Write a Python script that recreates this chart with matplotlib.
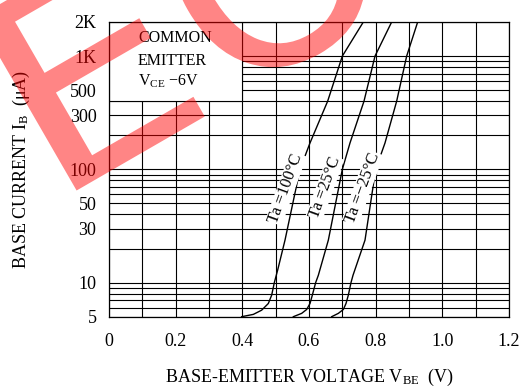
import numpy as np
import matplotlib
matplotlib.use('Agg')
import matplotlib.pyplot as plt
from matplotlib.patches import Rectangle, PathPatch
from matplotlib.textpath import TextPath
from matplotlib.font_manager import FontProperties
from matplotlib.transforms import Affine2D

plt.rcParams.update({
    'font.family': 'Liberation Serif',
    'mathtext.fontset': 'custom',
    'mathtext.rm': 'Liberation Serif',
    'mathtext.it': 'Liberation Serif:italic',
    'font.size': 13,
})

# base current (uA) vs base-emitter voltage (V), one pair per temperature
ib_100 = [5, 5.24, 5.71, 6.54, 7.75, 10, 12.9, 23.7, 100, 171, 400, 1000, 2000]
vbe_100 = [0.398, 0.433, 0.458, 0.478, 0.488, 0.496, 0.506, 0.528, 0.573, 0.603, 0.656, 0.700, 0.763]

ib_25 = [5, 5.35, 5.79, 6.54, 7.75, 10, 11.6, 23.7, 100, 171, 400, 1000, 2000]
vbe_25 = [0.553, 0.578, 0.593, 0.603, 0.610, 0.620, 0.628, 0.658, 0.700, 0.723, 0.765, 0.798, 0.848]

ib_m25 = [5, 5.35, 5.79, 6.54, 7.75, 10, 11.6, 23.7, 100, 171, 400, 1000, 2000]
vbe_m25 = [0.668, 0.688, 0.703, 0.711, 0.718, 0.726, 0.732, 0.768, 0.800, 0.828, 0.863, 0.893, 0.926]

curve_labels = ['Ta =100°C', 'Ta =25°C', 'Ta =\u221225°C']
label_pos = [(0.531, 68), (0.648, 69), (0.761, 69)]

xticks = [0, 0.2, 0.4, 0.6, 0.8, 1.0, 1.2]
xticklabels = ['0', '0.2', '0.4', '0.6', '0.8', '1.0', '1.2']
yticks = [5, 10, 30, 50, 100, 300, 500, 1000, 2000]
yticklabels = ['5', '10', '30', '50', '100', '300', '500', '1K', '2K']
ygrid = [5, 6, 7, 8, 9, 10, 20, 30, 40, 50, 60, 70, 80, 90,
         100, 200, 300, 400, 500, 600, 700, 800, 900, 1000, 2000]

W, H = 526, 392
fig = plt.figure(figsize=(W / 100, H / 100), dpi=100)
ax = fig.add_axes([0.2072, 0.1921, 0.7605, 0.7518])
ax.set_yscale('log')
ax.set_xlim(0, 1.2)
ax.set_ylim(5, 2000)

# grid
for v in np.arange(0, 1.21, 0.1):
    ax.axvline(v, color='black', lw=0.8, zorder=0.5)
for g in ygrid:
    ax.axhline(g, color='black', lw=0.8, zorder=0.5)

# white box for the conditions note
ax.add_patch(Rectangle((0, 400), 0.4, 1600, facecolor='white',
                       edgecolor='black', lw=0.8, zorder=1))
ax.text(0.0725, 0.946, 'COMMON', transform=ax.transAxes, fontsize=11.5,
        va='center', ha='left', zorder=3)
ax.text(0.0725, 0.868, 'EMITTER', transform=ax.transAxes, fontsize=11.5,
        va='center', ha='left', zorder=3)
ax.text(0.0725, 0.800, r'V$_{\mathregular{CE}}$ $-$6V', transform=ax.transAxes,
        fontsize=11.5, va='center', ha='left', zorder=3)

for vbe, ib in ((vbe_100, ib_100), (vbe_25, ib_25), (vbe_m25, ib_m25)):
    ax.plot(vbe, ib, color='black', lw=1.0, zorder=2)

for lab, (xv, yv) in zip(curve_labels, label_pos):
    ax.text(xv, yv, lab, rotation=70, fontsize=12, ha='center', va='center',
            rotation_mode='anchor', zorder=3,
            bbox=dict(facecolor='white', edgecolor='none', pad=0.5))

ax.set_xticks(xticks)
ax.set_xticklabels(xticklabels)
ax.set_yticks(yticks)
ax.set_yticklabels(yticklabels)
ax.yaxis.set_minor_locator(matplotlib.ticker.NullLocator())
ax.tick_params(length=0)
ax.tick_params(axis='x', pad=12)
ax.tick_params(axis='y', pad=9)
for s in ax.spines.values():
    s.set_linewidth(0.9)

fig.text(0.589, 0.036, r'BASE-EMITTER VOLTAGE V$_{\mathregular{BE}}$  (V)',
         ha='center', va='center', fontsize=13)
fig.text(0.040, 0.568, r'BASE CURRENT I$_{\mathregular{B}}$  ($\mathregular{\mu}$A)',
         ha='center', va='center', rotation=90, fontsize=13)

# watermark letters, placed in pixel space
wm_font = FontProperties(family='DejaVu Sans')
e_path = TextPath((0, 0), 'E', size=274, prop=wm_font)
eb = e_path.get_extents()
e_tr = Affine2D().translate(-eb.x0, -eb.y0).scale(1.15, 1.0) \
    .rotate_deg(30).translate(76.6, H - 190.5)
fig.add_artist(PathPatch(e_path, transform=e_tr, facecolor='red', edgecolor='none',
                         alpha=0.48, zorder=10))
o_path = TextPath((0, 0), 'O', size=274, prop=wm_font)
ob = o_path.get_extents()
o_tr = Affine2D().translate(-(ob.x0 + ob.x1) / 2, -(ob.y0 + ob.y1) / 2) \
    .rotate_deg(30).translate(268, H + 36)
fig.add_artist(PathPatch(o_path, transform=o_tr, facecolor='red', edgecolor='none',
                         alpha=0.48, zorder=10))

fig.savefig('out.png', dpi=100)
